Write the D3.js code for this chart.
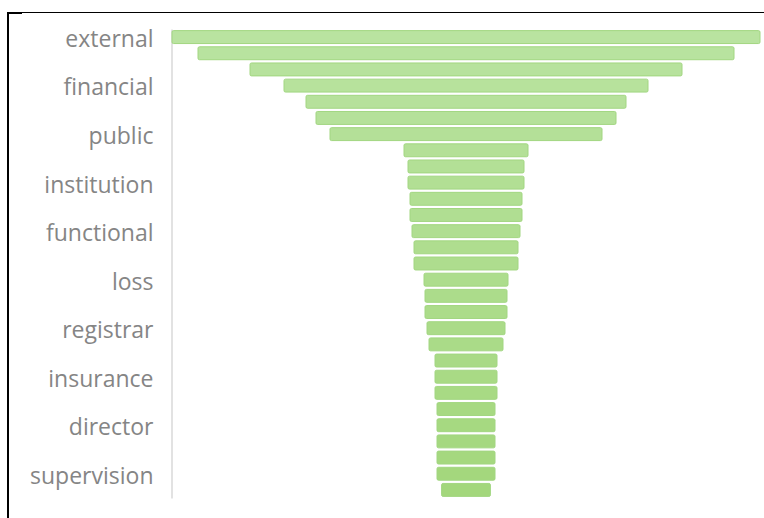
<!DOCTYPE html>
<html>
<head>
<meta charset="utf-8">
<script src="https://cdn.jsdelivr.net/npm/d3@7/dist/d3.min.js"></script>
<style>
  body { margin: 0; background: #fff; }
</style>
</head>
<body>
<div id="chart"></div>
<script>
// Define SVG area dimensions
var svgWidth = 764;
var svgHeight = 518;

// categories (only every third one gets a label, like the original)
var categories = [
  "external", "audit", "report",
  "financial", "account", "statement",
  "public", "sector", "management",
  "institution", "control", "internal",
  "functional", "activity", "review",
  "loss", "risk", "system",
  "registrar", "company", "office",
  "insurance", "policy", "fund",
  "director", "board", "member",
  "supervision", "authority"
];

// word counts
var values = [
  147, 134, 108,
  91, 80, 75,
  68, 31, 29,
  29, 28, 28,
  27, 26, 26,
  21, 20.5, 20.5,
  19.5, 18.5, 15.5,
  15.5, 15.5, 14.5,
  14.5, 14.5, 14.5,
  14.5, 12.2
];

var labelEvery = 3;

var data = categories.map(function(c, i){ return {name: c, value: values[i], idx: i}; });

var svg = d3.select("#chart")
  .append("svg")
  .attr("width", svgWidth)
  .attr("height", svgHeight);

// frame lines of the screenshot
svg.append("line")
  .attr("x1", 8).attr("x2", svgWidth)
  .attr("y1", 12.5).attr("y2", 12.5)
  .attr("stroke", "#000").attr("stroke-width", 1);
svg.append("line")
  .attr("x1", 8).attr("x2", 8)
  .attr("y1", 12).attr("y2", svgHeight)
  .attr("stroke", "#000").attr("stroke-width", 2);
svg.append("rect")
  .attr("x", 7).attr("y", 12).attr("width", 15).attr("height", 2)
  .attr("fill", "#000");

var maxVal = d3.max(values);

// funnel: bars centred on zero
var x = d3.scaleLinear()
  .domain([-maxVal / 2, maxVal / 2])
  .range([172, 760]);

var y = d3.scaleBand()
  .domain(categories)
  .range([29, 498])
  .paddingInner(0.2)
  .paddingOuter(0.1);

var color = d3.interpolateRgb("#b9e3a0", "#a3d77c");

// axis
var yAxis = d3.axisLeft(y)
  .tickSize(0)
  .tickPadding(18)
  .tickFormat(function(d, i){ return i % labelEvery === 0 ? d : ""; });

var axisG = svg.append("g")
  .attr("transform", "translate(171.5,0)")
  .call(yAxis);

axisG.select(".domain")
  .attr("stroke", "#d9d9d9")
  .attr("stroke-width", 1.5);

axisG.selectAll("text")
  .attr("fill", "#858585")
  .style("font-family", "'Open Sans', sans-serif")
  .style("font-size", "23px")
  .attr("dy", "0.43em");

// bars
svg.selectAll("rect.bar")
  .data(data)
  .enter()
  .append("rect")
  .attr("class", "bar")
  .attr("x", function(d){ return x(-d.value / 2); })
  .attr("y", function(d){ return y(d.name); })
  .attr("width", function(d){ return x(d.value / 2) - x(-d.value / 2); })
  .attr("height", y.bandwidth())
  .attr("rx", 1.5)
  .attr("fill", function(d){ return color(d.idx / (categories.length - 1)); })
  .attr("stroke", "#a2d681")
  .attr("stroke-width", 1);
</script>
</body>
</html>
